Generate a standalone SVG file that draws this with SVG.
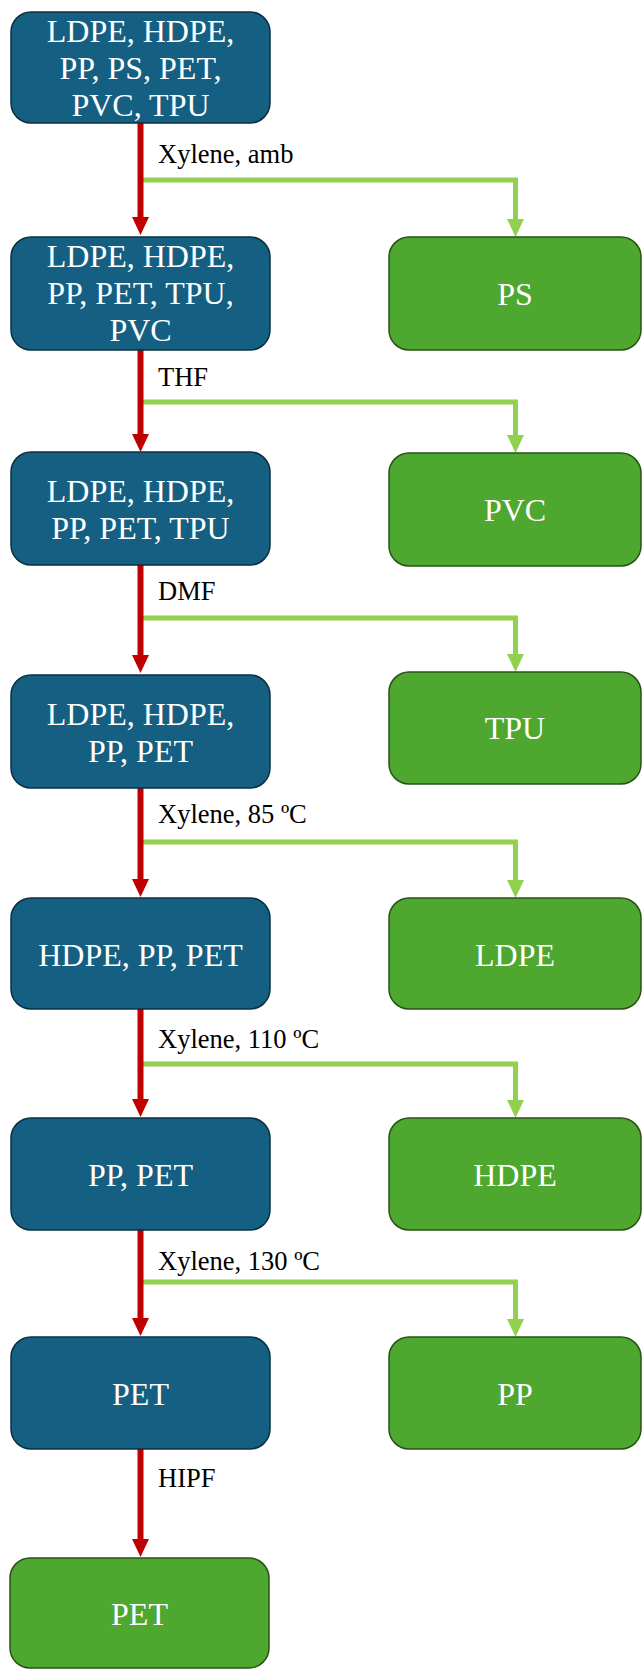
<svg xmlns="http://www.w3.org/2000/svg" width="643" height="1669" viewBox="0 0 643 1669">
<style>
  .blue { fill: #156082; stroke: #0A3041; stroke-width: 1.5; }
  .green { fill: #4EA72E; stroke: #275317; stroke-width: 1.5; }
  .nt { font-family: "Liberation Serif", "Times New Roman", serif; font-size: 32px; fill: #FFFFFF; text-anchor: middle; }
  .lbl { font-family: "Liberation Serif", "Times New Roman", serif; font-size: 26.5px; fill: #000000; }
  .red { stroke: #C00000; stroke-width: 6; fill: none; }
  .lg { stroke: #92D050; stroke-width: 5; fill: none; }
</style>
<defs>
  <marker id="arR" markerUnits="userSpaceOnUse" markerWidth="18" markerHeight="18" refX="10" refY="8.5" orient="auto">
    <path d="M0,0 L18,8.5 L0,17 z" fill="#C00000"/>
  </marker>
  <marker id="arG" markerUnits="userSpaceOnUse" markerWidth="18" markerHeight="18" refX="10" refY="8.5" orient="auto">
    <path d="M0,0 L18,8.5 L0,17 z" fill="#92D050"/>
  </marker>
</defs>
<rect width="643" height="1669" fill="#FFFFFF"/>
<g id="connectors">
  <path class="lg" d="M143,180 H515.5 V229" marker-end="url(#arG)"/>
  <path class="lg" d="M143,402 H515.5 V445" marker-end="url(#arG)"/>
  <path class="lg" d="M143,618 H515.5 V664" marker-end="url(#arG)"/>
  <path class="lg" d="M143,842 H515.5 V890" marker-end="url(#arG)"/>
  <path class="lg" d="M143,1064 H515.5 V1110" marker-end="url(#arG)"/>
  <path class="lg" d="M143,1282 H515.5 V1329" marker-end="url(#arG)"/>
  <path class="red" d="M140.5,123 V227" marker-end="url(#arR)"/>
  <path class="red" d="M140.5,350 V444" marker-end="url(#arR)"/>
  <path class="red" d="M140.5,565 V665" marker-end="url(#arR)"/>
  <path class="red" d="M140.5,788 V889" marker-end="url(#arR)"/>
  <path class="red" d="M140.5,1009 V1109" marker-end="url(#arR)"/>
  <path class="red" d="M140.5,1230 V1328" marker-end="url(#arR)"/>
  <path class="red" d="M140.5,1449 V1549" marker-end="url(#arR)"/>
  <text class="lbl" x="158" y="163">Xylene, amb</text>
  <text class="lbl" x="158" y="386">THF</text>
  <text class="lbl" x="158" y="600">DMF</text>
  <text class="lbl" x="158" y="823">Xylene, 85 ºC</text>
  <text class="lbl" x="158" y="1048">Xylene, 110 ºC</text>
  <text class="lbl" x="158" y="1270">Xylene, 130 ºC</text>
  <text class="lbl" x="158" y="1487">HIPF</text>
</g>
<g id="n1">
  <rect class="blue" x="11" y="12" width="259" height="111" rx="20"/>
  <text class="nt" x="140.5" y="42">LDPE, HDPE,</text>
  <text class="nt" x="140.5" y="79">PP, PS, PET,</text>
  <text class="nt" x="140.5" y="116">PVC, TPU</text>
</g>
<g id="n2">
  <rect class="blue" x="11" y="237" width="259" height="113" rx="20"/>
  <text class="nt" x="140.5" y="267">LDPE, HDPE,</text>
  <text class="nt" x="140.5" y="304">PP, PET, TPU,</text>
  <text class="nt" x="140.5" y="341">PVC</text>
</g>
<g id="n3">
  <rect class="blue" x="11" y="452" width="259" height="113" rx="20"/>
  <text class="nt" x="140.5" y="502">LDPE, HDPE,</text>
  <text class="nt" x="140.5" y="539">PP, PET, TPU</text>
</g>
<g id="n4">
  <rect class="blue" x="11" y="675" width="259" height="113" rx="20"/>
  <text class="nt" x="140.5" y="725">LDPE, HDPE,</text>
  <text class="nt" x="140.5" y="762">PP, PET</text>
</g>
<g id="n5">
  <rect class="blue" x="11" y="898" width="259" height="111" rx="20"/>
  <text class="nt" x="140.5" y="966">HDPE, PP, PET</text>
</g>
<g id="n6">
  <rect class="blue" x="11" y="1118" width="259" height="112" rx="20"/>
  <text class="nt" x="140.5" y="1186">PP, PET</text>
</g>
<g id="n7">
  <rect class="blue" x="11" y="1337" width="259" height="112" rx="20"/>
  <text class="nt" x="140.5" y="1405">PET</text>
</g>
<g id="n8">
  <rect class="green" x="10" y="1558" width="259" height="110" rx="20"/>
  <text class="nt" x="139.5" y="1625">PET</text>
</g>
<g id="g1">
  <rect class="green" x="389" y="237" width="252" height="113" rx="20"/>
  <text class="nt" x="515" y="305">PS</text>
</g>
<g id="g2">
  <rect class="green" x="389" y="453" width="252" height="113" rx="20"/>
  <text class="nt" x="515" y="521">PVC</text>
</g>
<g id="g3">
  <rect class="green" x="389" y="672" width="252" height="112" rx="20"/>
  <text class="nt" x="515" y="739">TPU</text>
</g>
<g id="g4">
  <rect class="green" x="389" y="898" width="252" height="111" rx="20"/>
  <text class="nt" x="515" y="966">LDPE</text>
</g>
<g id="g5">
  <rect class="green" x="389" y="1118" width="252" height="112" rx="20"/>
  <text class="nt" x="515" y="1186">HDPE</text>
</g>
<g id="g6">
  <rect class="green" x="389" y="1337" width="252" height="112" rx="20"/>
  <text class="nt" x="515" y="1405">PP</text>
</g>
</svg>
